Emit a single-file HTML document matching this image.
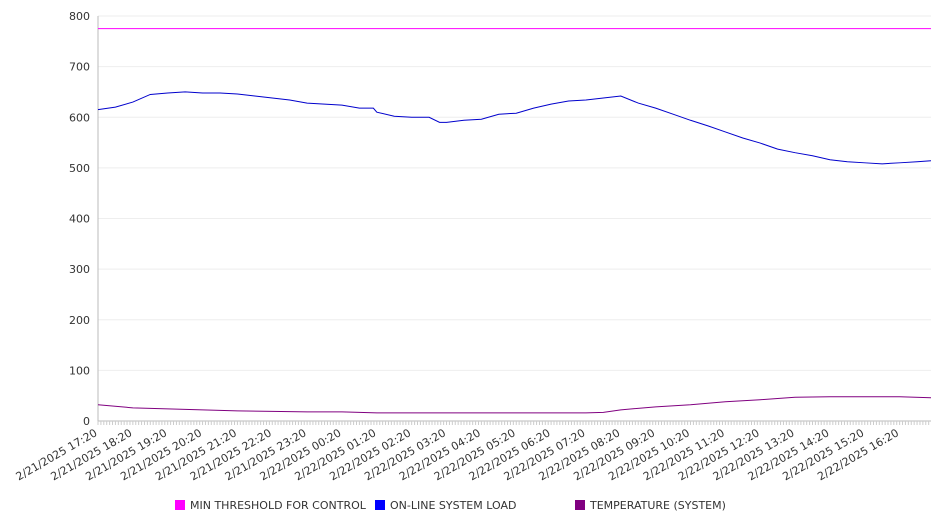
<!DOCTYPE html>
<html><head><meta charset="utf-8"><style>
body{margin:0;background:#fff;font-family:"DejaVu Sans","Liberation Sans",sans-serif}
svg text{font-family:"DejaVu Sans","Liberation Sans",sans-serif;font-size:11px;fill:#333}
</style></head><body>
<svg id="chart" width="946" height="526"></svg>
<script>
const tickLabels=["2/21/2025 17:20","2/21/2025 18:20","2/21/2025 19:20","2/21/2025 20:20","2/21/2025 21:20","2/21/2025 22:20","2/21/2025 23:20","2/22/2025 00:20","2/22/2025 01:20","2/22/2025 02:20","2/22/2025 03:20","2/22/2025 04:20","2/22/2025 05:20","2/22/2025 06:20","2/22/2025 07:20","2/22/2025 08:20","2/22/2025 09:20","2/22/2025 10:20","2/22/2025 11:20","2/22/2025 12:20","2/22/2025 13:20","2/22/2025 14:20","2/22/2025 15:20","2/22/2025 16:20"];
const yTicks=[0,100,200,300,400,500,600,700,800];
const loadHours=[0,0.5,1,1.5,2,2.5,3,3.5,4,4.5,5,5.5,6,6.5,7,7.5,7.9,8,8.5,9,9.5,9.8,10,10.5,11,11.5,12,12.5,13,13.5,14,14.5,15,15.5,16,16.5,17,17.5,18,18.5,19,19.5,20,20.5,21,21.5,22,22.5,23,23.5,23.9];
const loadValues=[615,620,630,645,648,650,648,648,646,642,638,634,628,626,624,618,618,610,602,600,600,590,590,594,596,606,608,618,626,632,634,638,642,628,618,606,594,583,571,559,549,537,530,524,516,512,510,508,510,512,514];
const tempHours=[0,1,2,3,4,5,6,7,8,9,10,11,12,13,14,14.5,15,16,17,18,19,20,21,22,23,23.9];
const tempValues=[32,26,24,22,20,19,18,18,16,16,16,16,16,16,16,17,22,28,32,38,42,47,48,48,48,46];
const thresholdValue=775;
const X0=98,X1=931,Y0=421,Y1=16,HOURS=23.9;
const sx=h=>X0+(X1-X0)*h/HOURS, sy=v=>Y0-(Y0-Y1)*v/800;
const svg=document.getElementById('chart'),NS="http://www.w3.org/2000/svg";
function mk(t,a,p){const e=document.createElementNS(NS,t);for(const k in a)e.setAttribute(k,a[k]);(p||svg).appendChild(e);return e;}
yTicks.forEach(v=>{
 const g=mk('line',{x1:X0,x2:X1,y1:sy(v),y2:sy(v),stroke:v===0?'#bbb':'#eee'});
 
 
 const t=mk('text',{x:90,y:sy(v)+4,'text-anchor':'end'});t.textContent=v;
 
 
});
const ax=mk('line',{x1:X0,x2:X0,y1:Y1,y2:Y0,stroke:'#bbb'});


for(let m=0;m<=HOURS*60;m+=5){const l=mk('line',{x1:sx(m/60),x2:sx(m/60),y1:Y0,y2:Y0+4,stroke:'#ccc'});
 
 }
tickLabels.forEach((s,i)=>{const x=sx(i);
 const t=mk('text',{x:x,y:Y0+14,'text-anchor':'end',transform:`rotate(-30 ${x} ${Y0+14})`});t.textContent=s;
 
 });
function line(hs,vs,c,name){const p=mk('polyline',{points:hs.map((h,i)=>sx(h)+','+sy(vs[i])).join(' '),fill:'none',stroke:c,'stroke-width':1});
 
 }
line([0,HOURS],[thresholdValue,thresholdValue],'#ff00ff','threshold-line');
line(loadHours,loadValues,'#0000cc','system-load-line');
line(tempHours,tempValues,'#800080','temperature-line');
[['MIN THRESHOLD FOR CONTROL','#ff00ff',175],['ON-LINE SYSTEM LOAD','#0000ff',375],['TEMPERATURE (SYSTEM)','#800080',575]].forEach(([s,c,x])=>{
 const r=mk('rect',{x:x,y:500,width:10,height:10,fill:c});
 
 
 const t=mk('text',{x:x+15,y:509});t.textContent=s;
 
 });
</script>
</body></html>
